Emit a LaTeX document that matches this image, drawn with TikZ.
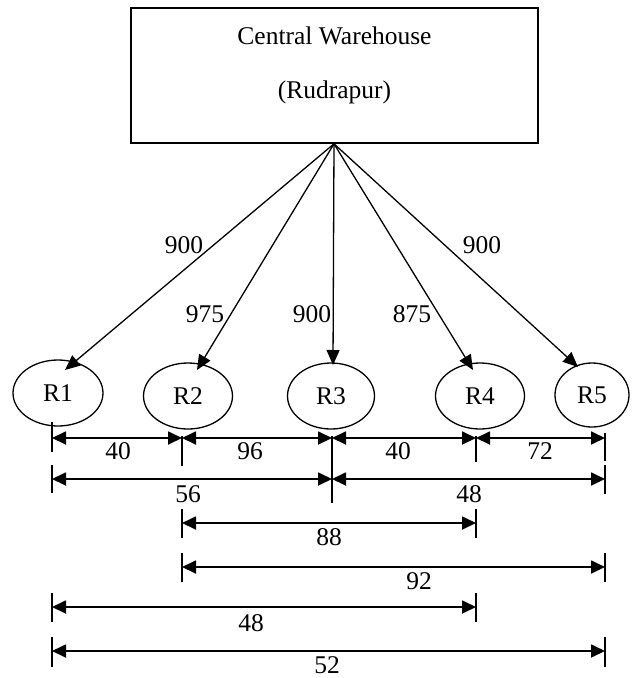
\documentclass[tikz,border=0pt]{standalone}
\usepackage{fontspec}
\setmainfont{Liberation Serif}
\usetikzlibrary{arrows.meta,calc,shapes.geometric}
\begin{document}
\begin{tikzpicture}[x=1pt,y=-1pt,
  font=\fontsize{25.5}{30}\selectfont,
  hub/.style={draw, line width=1.6pt, minimum width=407pt, minimum height=135pt, inner sep=0pt},
  retailer/.style={draw, ellipse, line width=1.3pt, inner sep=0pt},
  feed/.style={line width=1.3pt, -{Triangle[length=15pt,width=13pt]}},
  span/.style={line width=1.8pt, {Triangle[length=14pt,width=13pt]}-{Triangle[length=14pt,width=13pt]}},
  tickmark/.style={line width=1.3pt},
  lbl/.style={inner sep=0pt}]
\useasboundingbox (0,0) rectangle (636,678);

% warehouse
\node[hub] (wh) at (334.5,75.5) {};
\node[lbl] (wht1) at (334.5,36) {Central Warehouse};
\node[lbl] (wht2) at (334.5,92) {(Rudrapur)};

% retailers
\node[retailer, minimum width=90pt, minimum height=66pt] (R1) at (58,393) {R1};
\node[retailer, minimum width=89pt, minimum height=66pt] (R2) at (188,396) {R2};
\node[retailer, minimum width=87pt, minimum height=66pt] (R3) at (331,396) {R3};
\node[retailer, minimum width=89pt, minimum height=66pt] (R4) at (480,396) {R4};
\node[retailer, minimum width=74pt, minimum height=64pt] (R5) at (592,395) {R5};

% arrow tips
\coordinate (apex) at ($(wh.south)+(-0.5,0)$);
\coordinate (t1) at ($(R1)+(7,-23)$);
\coordinate (t2) at ($(R2)+(9,-26)$);
\coordinate (t3) at ($(R3)+(2,-31)$);
\coordinate (t4) at ($(R4)+(-7,-26)$);
\coordinate (t5) at ($(R5)+(-14,-28)$);
\draw[feed] (apex) -- (t1);
\draw[feed] (apex) -- (t2);
\draw[feed] (apex) -- (t3);
\draw[feed] (apex) -- (t4);
\draw[feed] (apex) -- (t5);

\node[lbl] (q1) at (184,245) {900};
\node[lbl] (q2) at (205,314) {975};
\node[lbl] (q3) at (312,314) {900};
\node[lbl] (q4) at (412,314) {875};
\node[lbl] (q5) at (482,245) {900};

% row 1
\foreach \n/\x in {1/52,2/182,3/332,4/476,5/605} \coordinate (a\n) at (\x,438);
\draw[span] (a1) -- (a2);
\draw[span] (a2) -- (a3);
\draw[span] (a3) -- (a4);
\draw[span] (a4) -- (a5);
\draw[tickmark] (52,422) -- (52,452);
\draw[tickmark] (182,436) -- (182,466);
\draw[tickmark] (332,436) -- (332,466);
\draw[tickmark] (476,436) -- (476,462);
\draw[tickmark] (605,433) -- (605,461);
\node[lbl] (l1) at (118,451) {40};
\node[lbl] (l2) at (250,451) {96};
\node[lbl] (l3) at (398,451) {40};
\node[lbl] (l4) at (540,451) {72};

% row 2
\coordinate (b1) at (52,479);
\coordinate (b3) at (332,479);
\coordinate (b5) at (605,479);
\draw[span] (b1) -- (b3);
\draw[span] (b3) -- (b5);
\draw[tickmark] (52,465) -- (52,493);
\draw[tickmark] (332,465) -- (332,503);
\draw[tickmark] (605,465) -- (605,494);
\node[lbl] (l5) at (188,494) {56};
\node[lbl] (l6) at (469,494) {48};

% row 3
\coordinate (c2) at (182,523);
\coordinate (c4) at (476,523);
\draw[span] (c2) -- (c4);
\draw[tickmark] (182,509) -- (182,538);
\draw[tickmark] (476,509) -- (476,538);
\node[lbl] (l7) at (329,537) {88};

% row 4
\coordinate (d2) at (182,567);
\coordinate (d5) at (605,567);
\draw[span] (d2) -- (d5);
\draw[tickmark] (182,553) -- (182,582);
\draw[tickmark] (605,553) -- (605,582);
\node[lbl] (l8) at (419,581) {92};

% row 5
\coordinate (e1) at (52,607);
\coordinate (e4) at (476,607);
\draw[span] (e1) -- (e4);
\draw[tickmark] (52,593) -- (52,622);
\draw[tickmark] (476,593) -- (476,622);
\node[lbl] (l9) at (251,623) {48};

% row 6
\coordinate (f1) at (52,651);
\coordinate (f5) at (605,651);
\draw[span] (f1) -- (f5);
\draw[tickmark] (52,637) -- (52,667);
\draw[tickmark] (605,637) -- (605,667);
\node[lbl] (l10) at (327,665) {52};
\end{tikzpicture}
\end{document}
